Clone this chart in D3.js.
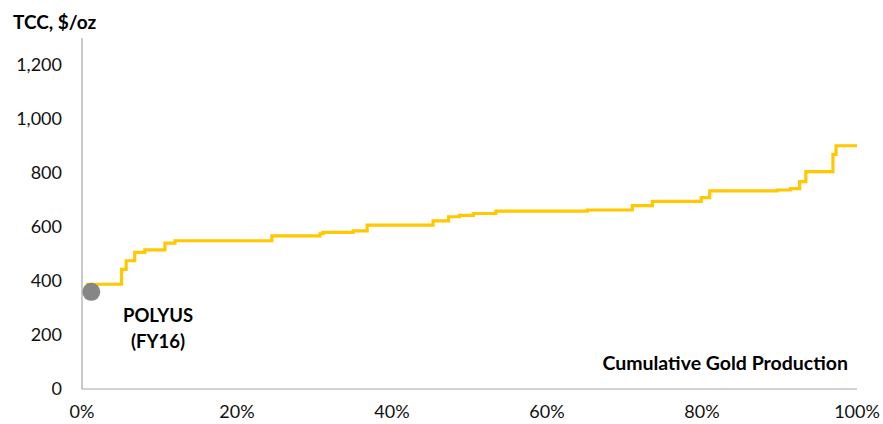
<!DOCTYPE html>
<html>
<head>
<meta charset="utf-8">
<script src="https://cdn.jsdelivr.net/npm/d3@7"></script>
<style>
  html, body { margin: 0; padding: 0; background: #fff; }
  svg { display: block; font-family: Lato, "Open Sans", sans-serif; }
</style>
</head>
<body>
<svg id="chart" width="883" height="424"></svg>
<script>
// Cash-cost curve: start of each producer's segment (cumulative % of output) and its TCC, $/oz
const cumulativeShare = [0.5, 5.1, 5.7, 6.8, 8.1, 10.7, 12.0, 24.5, 30.7, 31.1, 35.0, 36.8, 45.3, 47.3, 48.7, 50.5, 53.4, 65.2, 71.0, 73.6, 79.9, 81.0, 89.7, 91.4, 92.6, 93.4, 96.9, 97.3, 100];
const cashCost        = [388, 443, 475, 506, 515, 540, 549, 567, 575, 580, 586, 607, 623, 638, 643, 650, 659, 663, 679, 695, 709, 734, 737, 742, 768, 805, 869, 901, 901];

// Highlighted company
const highlightLabel = ["POLYUS", "(FY16)"];
const highlightShare = 1.2;
const highlightCost = 360;

const yTicks = [0, 200, 400, 600, 800, 1000, 1200];
const xTicks = [0, 20, 40, 60, 80, 100];

const svg = d3.select("#chart");
const margin = { left: 82, right: 26, top: 38, bottom: 35 };
const W = 883, H = 424;

const x = d3.scaleLinear().domain([0, 100]).range([margin.left, W - margin.right]);
const y = d3.scaleLinear().domain([0, 1300]).range([H - margin.bottom, margin.top]);

const axisColor = "#a6a6a6";

// Axes lines
svg.append("line")
  .attr("x1", x(0)).attr("x2", x(0))
  .attr("y1", y(0)).attr("y2", y(1300))
  .attr("stroke", axisColor).attr("stroke-width", 1.2);
svg.append("line")
  .attr("x1", x(0)).attr("x2", x(100))
  .attr("y1", y(0)).attr("y2", y(0))
  .attr("stroke", axisColor).attr("stroke-width", 1.2);

// Y tick labels
svg.append("g").selectAll("text")
  .data(yTicks).join("text")
  .attr("x", 62)
  .attr("y", d => y(d))
  .attr("dy", "0.35em")
  .attr("text-anchor", "end")
  .attr("font-size", 18)
  .attr("fill", "#111")
  .text(d => d3.format(",")(d));

// X tick labels
svg.append("g").selectAll("text")
  .data(xTicks).join("text")
  .attr("x", d => x(d))
  .attr("y", 412)
  .attr("dy", "0.35em")
  .attr("text-anchor", "middle")
  .attr("font-size", 18)
  .attr("fill", "#111")
  .text(d => d + "%");

// Axis titles
svg.append("text")
  .attr("x", 13).attr("y", 22).attr("dy", "0.35em")
  .attr("font-size", 19).attr("font-weight", "bold").attr("fill", "#000")
  .text("TCC, $/oz");

svg.append("text")
  .attr("x", 848).attr("y", 363).attr("dy", "0.35em")
  .attr("text-anchor", "end")
  .attr("font-size", 19.5).attr("font-weight", "bold").attr("fill", "#000")
  .text("Cumulative Gold Production");

// Step curve
const pts = cumulativeShare.map((s, i) => [s, cashCost[i]]);
const line = d3.line()
  .x(d => x(d[0]))
  .y(d => y(d[1]))
  .curve(d3.curveStepAfter);

svg.append("path")
  .datum(pts)
  .attr("d", line)
  .attr("fill", "none")
  .attr("stroke", "#FFC800")
  .attr("stroke-width", 3.2)
  .attr("stroke-linejoin", "miter");

// Highlight marker and label
svg.append("circle")
  .attr("cx", x(highlightShare)).attr("cy", y(highlightCost))
  .attr("r", 9)
  .attr("fill", "#868686");

svg.append("g").selectAll("text")
  .data(highlightLabel).join("text")
  .attr("x", 158)
  .attr("y", (d, i) => 316 + i * 26)
  .attr("dy", "0.35em")
  .attr("text-anchor", "middle")
  .attr("font-size", 18.5).attr("font-weight", "bold").attr("fill", "#000")
  .text(d => d);
</script>
</body>
</html>
